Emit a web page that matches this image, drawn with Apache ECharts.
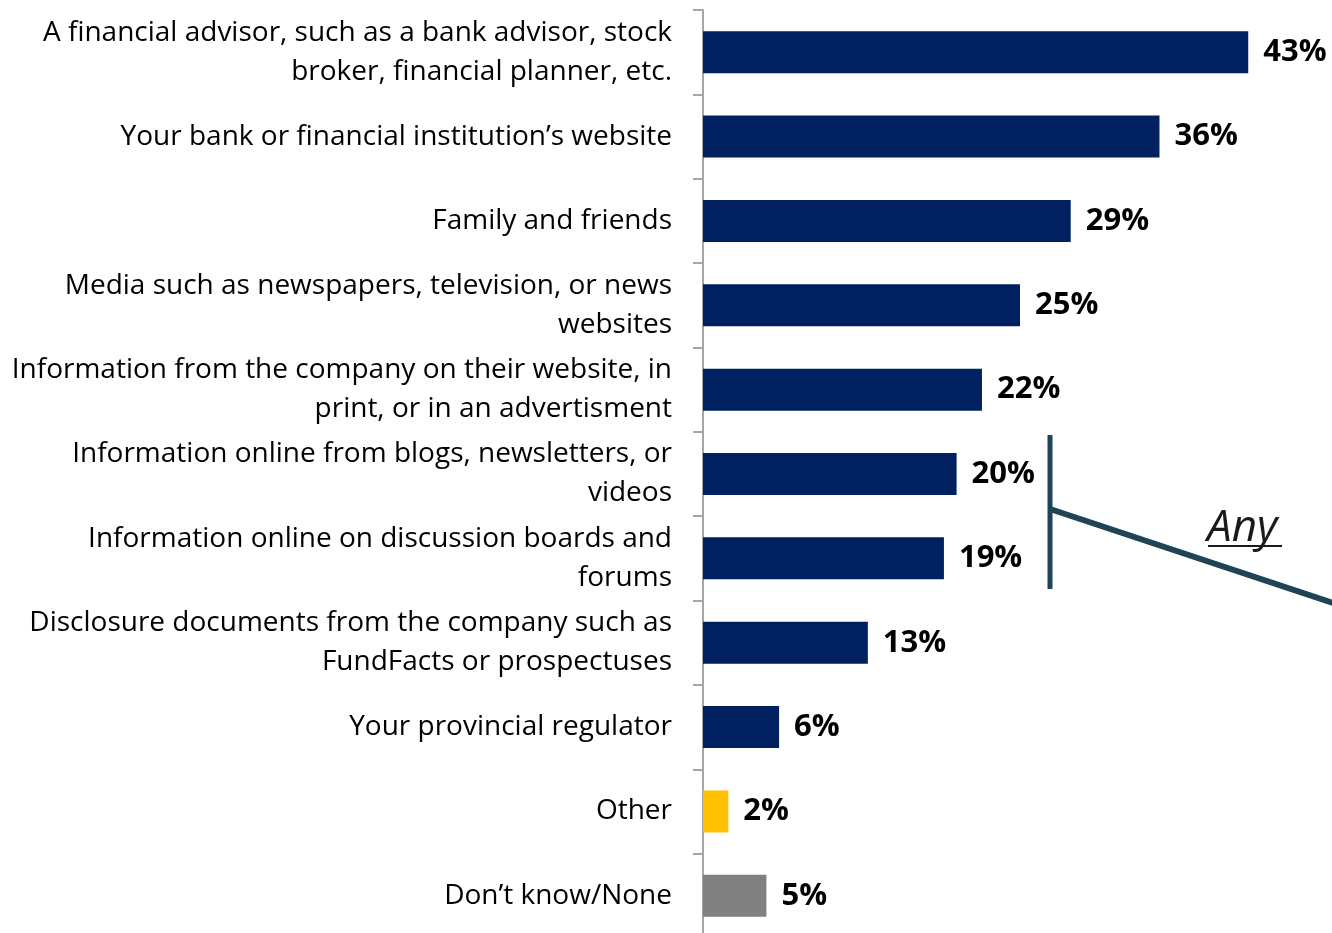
<!DOCTYPE html>
<html>
<head>
<meta charset="utf-8">
<script src="https://cdn.jsdelivr.net/npm/echarts@6/dist/echarts.min.js"></script>
<style>
  html, body { margin: 0; padding: 0; background: #ffffff; }
  #chart { width: 1332px; height: 933px; }
</style>
</head>
<body>
<div id="chart"></div>
<script>
// Sources of information, share of respondents (%)
const categories = [
  'A financial advisor, such as a bank advisor, stock\nbroker, financial planner, etc.',
  'Your bank or financial institution’s website',
  'Family and friends',
  'Media such as newspapers, television, or news\nwebsites',
  'Information from the company on their website, in\nprint, or in an advertisment',
  'Information online from blogs, newsletters, or\nvideos',
  'Information online on discussion boards and\nforums',
  'Disclosure documents from the company such as\nFundFacts or prospectuses',
  'Your provincial regulator',
  'Other',
  'Don’t know/None'
];
const values = [43, 36, 29, 25, 22, 20, 19, 13, 6, 2, 5];
const barColors = ['#002060', '#002060', '#002060', '#002060', '#002060', '#002060',
                   '#002060', '#002060', '#002060', '#FFC000', '#808080'];
const annotationText = 'Any';

const FONT = '"Open Sans", "Noto Sans", sans-serif';
const chart = echarts.init(document.getElementById('chart'), null, { renderer: 'canvas' });

const xMax = 45;
const pxPerUnit = 12.68;
const gridLeft = 703;
const gridTop = 10;
const gridHeight = 928;

chart.setOption({
  animation: false,
  backgroundColor: '#ffffff',
  grid: {
    left: gridLeft,
    top: gridTop,
    width: xMax * pxPerUnit,
    height: gridHeight,
    containLabel: false,
    outerBoundsMode: 'none'
  },
  xAxis: {
    type: 'value',
    min: 0,
    max: xMax,
    show: false
  },
  yAxis: {
    type: 'category',
    inverse: true,
    data: categories,
    axisLine: { show: true, lineStyle: { color: '#A6A6A6', width: 2 } },
    axisTick: { show: true, length: 10, lineStyle: { color: '#A6A6A6', width: 2 } },
    axisLabel: {
      margin: 31,
      color: '#000000',
      fontFamily: FONT,
      fontSize: 28,
      lineHeight: 39,
      padding: [5, 0, 0, 0],
      align: 'right'
    },
    splitLine: { show: false }
  },
  series: [{
    type: 'bar',
    data: values.map((v, i) => ({ value: v, itemStyle: { color: barColors[i] } })),
    barWidth: 42,
    label: {
      show: true,
      position: 'right',
      distance: 15,
      formatter: '{c}%',
      color: '#000000',
      fontFamily: FONT,
      fontWeight: 'bold',
      fontSize: 31,
      padding: [4, 0, 0, 0]
    }
  }],
  graphic: [
    {
      type: 'line',
      shape: { x1: 1050, y1: 435, x2: 1050, y2: 589 },
      style: { stroke: '#1E4556', lineWidth: 5 }
    },
    {
      type: 'line',
      shape: { x1: 1050, y1: 509, x2: 1336, y2: 604 },
      style: { stroke: '#1E4556', lineWidth: 6 }
    },
    {
      type: 'text',
      x: 1207,
      y: 506,
      style: {
        text: annotationText,
        fontFamily: FONT,
        fontStyle: 'italic',
        fontSize: 44,
        fill: '#1a1a1a'
      }
    },
    {
      type: 'line',
      shape: { x1: 1208, y1: 546, x2: 1282, y2: 546 },
      style: { stroke: '#1a1a1a', lineWidth: 2 }
    }
  ]
});
</script>
</body>
</html>
